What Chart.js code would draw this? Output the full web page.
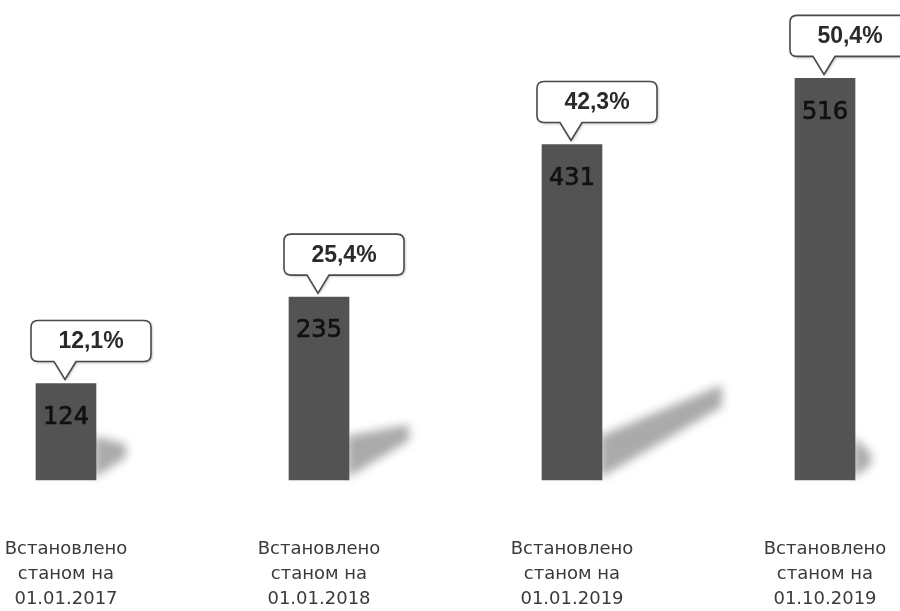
<!DOCTYPE html>
<html>
<head>
<meta charset="utf-8">
<script src="https://cdn.jsdelivr.net/npm/chart.js@4/dist/chart.umd.min.js"></script>
<style>
  html, body { margin: 0; padding: 0; background: #fff; }
  #wrap { width: 900px; height: 611px; }
</style>
</head>
<body>
<div id="wrap"><canvas id="grafik" width="900" height="611"></canvas></div>
<script>
// встановлено станом на дату
const dates = ["01.01.2017", "01.01.2018", "01.01.2019", "01.10.2019"];
const installed = [124, 235, 431, 516];
const shares = [12.1, 25.4, 42.3, 50.4];

// довжина тіні праворуч від стовпця
const shadowReach = [30, 60, 120, 16];

const labels = dates.map(d => ["Встановлено", "станом на", d]);

/* ---------- тіні під стовпцями ---------- */
const shadowPlugin = {
    id: "barShadows",
    beforeDatasetsDraw(chart) {
        const ctx = chart.ctx;
        const meta = chart.getDatasetMeta(0);
        meta.data.forEach((bar, i) => {
            const r = bar.x + bar.width / 2;
            const b = bar.base - 2;
            const L = shadowReach[i];
            ctx.save();
            ctx.filter = "blur(5px)";
            ctx.fillStyle = "rgba(100,100,100,0.55)";
            ctx.beginPath();
            ctx.moveTo(r - 2, b - 42);
            ctx.lineTo(r + L, b - 0.66 * L - 14);
            ctx.lineTo(r + L, b - 0.56 * L - 4);
            ctx.lineTo(r - 2, b);
            ctx.closePath();
            ctx.fill();
            ctx.restore();
        });
    }
};

/* ---------- значення та виноски з відсотками ---------- */
function calloutPath(ctx, x, y, w, h, rad, tipL, tipR, tipX, tipY) {
    ctx.beginPath();
    ctx.moveTo(x + rad, y);
    ctx.lineTo(x + w - rad, y);
    ctx.quadraticCurveTo(x + w, y, x + w, y + rad);
    ctx.lineTo(x + w, y + h - rad);
    ctx.quadraticCurveTo(x + w, y + h, x + w - rad, y + h);
    ctx.lineTo(tipR, y + h);
    ctx.lineTo(tipX, tipY);
    ctx.lineTo(tipL, y + h);
    ctx.lineTo(x + rad, y + h);
    ctx.quadraticCurveTo(x, y + h, x, y + h - rad);
    ctx.lineTo(x, y + rad);
    ctx.quadraticCurveTo(x, y, x + rad, y);
    ctx.closePath();
}

const labelPlugin = {
    id: "barLabels",
    afterDatasetsDraw(chart) {
        const ctx = chart.ctx;
        const meta = chart.getDatasetMeta(0);
        meta.data.forEach((bar, i) => {
            // число всередині стовпця
            ctx.save();
            ctx.font = "24px 'DejaVu Sans', sans-serif";
            ctx.fillStyle = "#111";
            ctx.strokeStyle = "#111";
            ctx.lineWidth = 0.7;
            ctx.textAlign = "center";
            ctx.textBaseline = "middle";
            ctx.fillText(String(installed[i]), bar.x, bar.y + 34);
            ctx.strokeText(String(installed[i]), bar.x, bar.y + 34);
            ctx.restore();

            // виноска над стовпцем
            const bw = 120, bh = 41;
            const bx = bar.x - 35;
            const by = bar.y - 22 - bh;
            ctx.save();
            ctx.shadowColor = "rgba(0,0,0,0.35)";
            ctx.shadowBlur = 3;
            ctx.shadowOffsetX = 1;
            ctx.shadowOffsetY = 1;
            calloutPath(ctx, bx, by, bw, bh, 7, bar.x - 12, bar.x + 10, bar.x - 1, bar.y - 4);
            ctx.fillStyle = "#fff";
            ctx.fill();
            ctx.shadowColor = "transparent";
            ctx.lineWidth = 1.6;
            ctx.strokeStyle = "#4a4a4a";
            ctx.stroke();
            ctx.font = "bold 23px 'Liberation Sans', Arial, sans-serif";
            ctx.fillStyle = "#2a2a2a";
            ctx.textAlign = "center";
            ctx.textBaseline = "middle";
            ctx.fillText(shares[i].toFixed(1).replace(".", ",") + "%", bx + bw / 2, by + bh / 2 + 1);
            ctx.restore();
        });
    }
};

new Chart(document.getElementById("grafik"), {
    type: "bar",
    data: {
        labels: labels,
        datasets: [{
            data: installed,
            backgroundColor: "#535353",
            borderWidth: 0,
            barThickness: 60,
            clip: false
        }]
    },
    options: {
        responsive: false,
        animation: false,
        layout: { padding: { top: 13, left: 66, right: 75, bottom: 0 } },
        plugins: {
            legend: { display: false },
            tooltip: { enabled: false }
        },
        scales: {
            x: {
                offset: false,
                grid: { display: false, drawTicks: false },
                border: { display: false },
                ticks: {
                    autoSkip: false,
                    maxRotation: 0,
                    padding: 57,
                    color: "#3a3a3a",
                    font: { family: "'DejaVu Sans', sans-serif", size: 18, lineHeight: "24.75px" }
                },
                afterFit(scale) {
                    scale.height = 131;
                    scale.paddingLeft = 0;
                    scale.paddingRight = 0;
                }
            },
            y: {
                display: false,
                min: 0,
                max: 600
            }
        }
    },
    plugins: [shadowPlugin, labelPlugin]
});
</script>
</body>
</html>
